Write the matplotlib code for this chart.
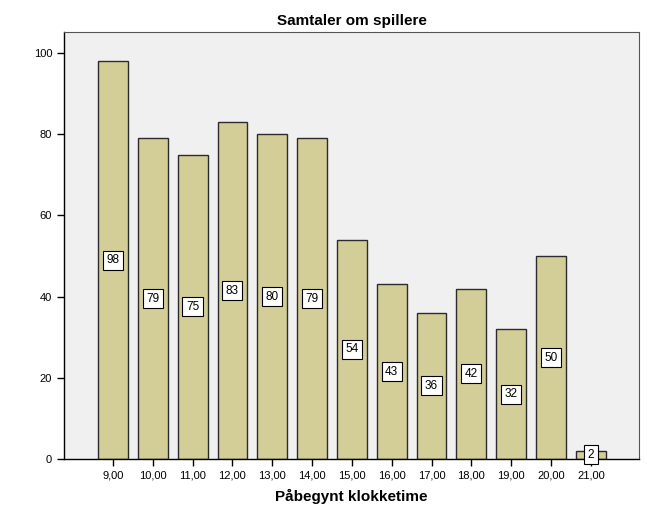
import matplotlib
matplotlib.use("Agg")
import matplotlib.pyplot as plt

categories = ["9,00", "10,00", "11,00", "12,00", "13,00", "14,00", "15,00",
              "16,00", "17,00", "18,00", "19,00", "20,00", "21,00"]
values = [98, 79, 75, 83, 80, 79, 54, 43, 36, 42, 32, 50, 2]
yticks = [0, 20, 40, 60, 80, 100]

plt.rcParams['font.family'] = ['Liberation Sans', 'DejaVu Sans']

fig = plt.figure(figsize=(6.47, 5.19), dpi=100)
ax = fig.add_axes([64/647, 1 - 459/519, (639-64)/647, (459-32)/519])
ax.set_facecolor('#F0F0F0')

x = list(range(len(categories)))
ax.bar(x, values, width=0.75, color='#D3CE97', edgecolor='#2b2b2b', linewidth=1.0, zorder=2)
for xi, v in zip(x, values):
    ax.text(xi, v/2, str(v), ha='center', va='center', fontsize=8.5, zorder=3,
            bbox=dict(boxstyle='square,pad=0.3', facecolor='white', edgecolor='black', linewidth=0.8))

ax.set_xlim(-1.23, 12 + 1.21)
ax.set_ylim(0, 105.2)
ax.set_xticks(x)
ax.set_xticklabels(categories, fontsize=8)
ax.set_yticks(yticks)
ax.set_yticklabels([str(t) for t in yticks], fontsize=8)
ax.tick_params(axis='both', direction='out', length=5, width=1, color='black')
for s in ['top', 'right']:
    ax.spines[s].set_color('#555555')
    ax.spines[s].set_linewidth(0.8)
for s in ['left', 'bottom']:
    ax.spines[s].set_color('black')
    ax.spines[s].set_linewidth(1.0)

ax.set_title("Samtaler om spillere", fontsize=11, fontweight='bold', pad=5)
ax.set_xlabel("Påbegynt klokketime", fontsize=11, fontweight='bold', labelpad=6)

fig.savefig("out.png", dpi=100)
